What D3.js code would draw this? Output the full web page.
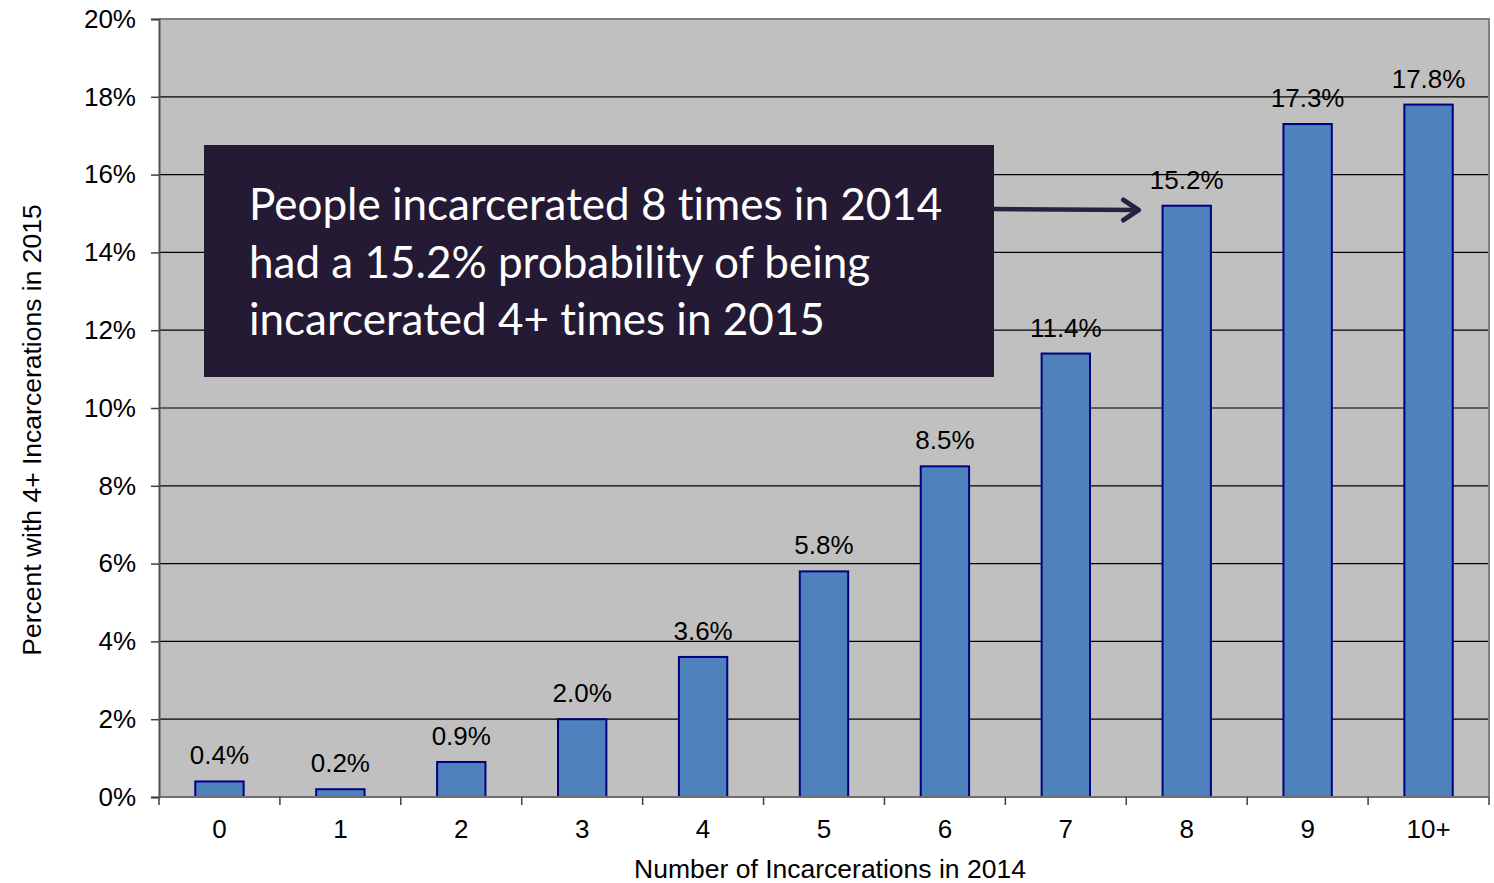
<!DOCTYPE html>
<html>
<head>
<meta charset="utf-8">
<script src="https://cdn.jsdelivr.net/npm/d3@7"></script>
<style>
  body { margin: 0; background: #fff; }
  text { font-family: "Liberation Sans", Arial, sans-serif; }
</style>
</head>
<body>
<div id="chart"></div>
<script>
// data
var categories = ["0", "1", "2", "3", "4", "5", "6", "7", "8", "9", "10+"];
var values = [0.4, 0.2, 0.9, 2.0, 3.6, 5.8, 8.5, 11.4, 15.2, 17.3, 17.8];
var yTicks = [0, 2, 4, 6, 8, 10, 12, 14, 16, 18, 20];
var noteLines = [
  "People incarcerated 8 times in 2014",
  "had a 15.2% probability of being",
  "incarcerated 4+ times in 2015"
];
var noteTarget = "8";

var width = 1494, height = 883;
var margin = {top: 19, right: 5, bottom: 86, left: 159};

var svg = d3.select("#chart").append("svg")
  .attr("width", width)
  .attr("height", height);

var x = d3.scaleBand()
  .domain(categories)
  .range([margin.left, width - margin.right])
  .paddingInner(0.6)
  .paddingOuter(0.3);

var y = d3.scaleLinear()
  .domain([0, 20])
  .range([height - margin.bottom, margin.top]);

// plot background
svg.append("rect")
  .attr("x", margin.left)
  .attr("y", margin.top)
  .attr("width", width - margin.right - margin.left)
  .attr("height", y(0) - margin.top)
  .attr("fill", "#c0c0c0");

// gridlines
svg.selectAll(".grid")
  .data(yTicks.slice(1, -1))
  .enter().append("line")
  .attr("class", "grid")
  .attr("x1", margin.left)
  .attr("x2", width - margin.right)
  .attr("y1", d => y(d))
  .attr("y2", d => y(d))
  .attr("stroke", "#000")
  .attr("stroke-width", 1.2);

// top & right border
svg.append("path")
  .attr("d", `M${margin.left},${margin.top}H${width - margin.right}V${y(0)}`)
  .attr("fill", "none")
  .attr("stroke", "#808080")
  .attr("stroke-width", 2);

// bars
svg.selectAll(".bar")
  .data(values)
  .enter().append("rect")
  .attr("class", "bar")
  .attr("x", (d, i) => x(categories[i]))
  .attr("y", d => y(d))
  .attr("width", x.bandwidth())
  .attr("height", d => y(0) - y(d))
  .attr("fill", "#4f81bd")
  .attr("stroke", "#000080")
  .attr("stroke-width", 2);

// value labels
svg.selectAll(".val")
  .data(values)
  .enter().append("text")
  .attr("class", "val")
  .attr("x", (d, i) => x(categories[i]) + x.bandwidth() / 2)
  .attr("y", d => y(d) - 17)
  .attr("text-anchor", "middle")
  .style("font-size", "26px")
  .style("fill", "#000")
  .text(d => d.toFixed(1) + "%");

// y axis
var yAxis = svg.append("g")
  .attr("transform", `translate(${margin.left},0)`)
  .call(d3.axisLeft(y).tickValues(yTicks).tickSize(8).tickPadding(15)
    .tickFormat(d => d + "%"));
yAxis.select(".domain").attr("stroke", "#505050").attr("stroke-width", 2);
yAxis.selectAll(".tick line").attr("stroke", "#404040").attr("stroke-width", 1.5);
yAxis.selectAll(".tick text").style("font-size", "26px").style("fill", "#000")
  .style("font-family", "'Liberation Sans', Arial, sans-serif");

// x axis: ticks between categories
var xAxisG = svg.append("g");
xAxisG.append("line")
  .attr("x1", margin.left).attr("x2", width - margin.right)
  .attr("y1", y(0)).attr("y2", y(0))
  .attr("stroke", "#707070").attr("stroke-width", 2);
var bounds = d3.range(categories.length + 1).map(i => margin.left + i * (width - margin.right - margin.left) / categories.length);
xAxisG.selectAll(".xt")
  .data(bounds)
  .enter().append("line")
  .attr("x1", d => d).attr("x2", d => d)
  .attr("y1", y(0)).attr("y2", y(0) + 8)
  .attr("stroke", "#404040").attr("stroke-width", 1.5);
xAxisG.selectAll(".xl")
  .data(categories)
  .enter().append("text")
  .attr("x", d => x(d) + x.bandwidth() / 2)
  .attr("y", y(0) + 41)
  .attr("text-anchor", "middle")
  .style("font-size", "26px")
  .style("fill", "#000")
  .text(d => d);

// axis titles
svg.append("text")
  .attr("x", 830)
  .attr("y", 878)
  .attr("text-anchor", "middle")
  .style("font-size", "26.5px")
  .style("fill", "#000")
  .text("Number of Incarcerations in 2014");

svg.append("text")
  .attr("transform", `translate(41,${(y(0) + y(20)) / 2 + 22}) rotate(-90)`)
  .attr("text-anchor", "middle")
  .style("font-size", "26.5px")
  .style("fill", "#000")
  .text("Percent with 4+ Incarcerations in 2015");

// annotation box
var note = svg.append("g");
note.append("rect")
  .attr("x", 204).attr("y", 145)
  .attr("width", 790).attr("height", 232)
  .attr("fill", "#241a33");
note.selectAll("text")
  .data(noteLines)
  .enter().append("text")
  .attr("x", 249)
  .attr("y", (d, i) => 220 + i * 57.5)
  .style("font-family", "Lato, 'Open Sans', sans-serif")
  .style("font-size", "44px")
  .style("font-variant-ligatures", "none")
  .style("fill", "#fff")
  .text(d => d);

// arrow to the highlighted bar
var tipX = x(noteTarget) - 24, tipY = 210;
svg.append("line")
  .attr("x1", 994).attr("y1", 209)
  .attr("x2", tipX).attr("y2", tipY)
  .attr("stroke", "#2a2040").attr("stroke-width", 4.5);
svg.append("path")
  .attr("d", `M${tipX - 15},${tipY - 10}L${tipX},${tipY}L${tipX - 15},${tipY + 10}`)
  .attr("fill", "none")
  .attr("stroke", "#2a2040")
  .attr("stroke-width", 5)
  .attr("stroke-linecap", "round")
  .attr("stroke-linejoin", "round");
</script>
</body>
</html>
